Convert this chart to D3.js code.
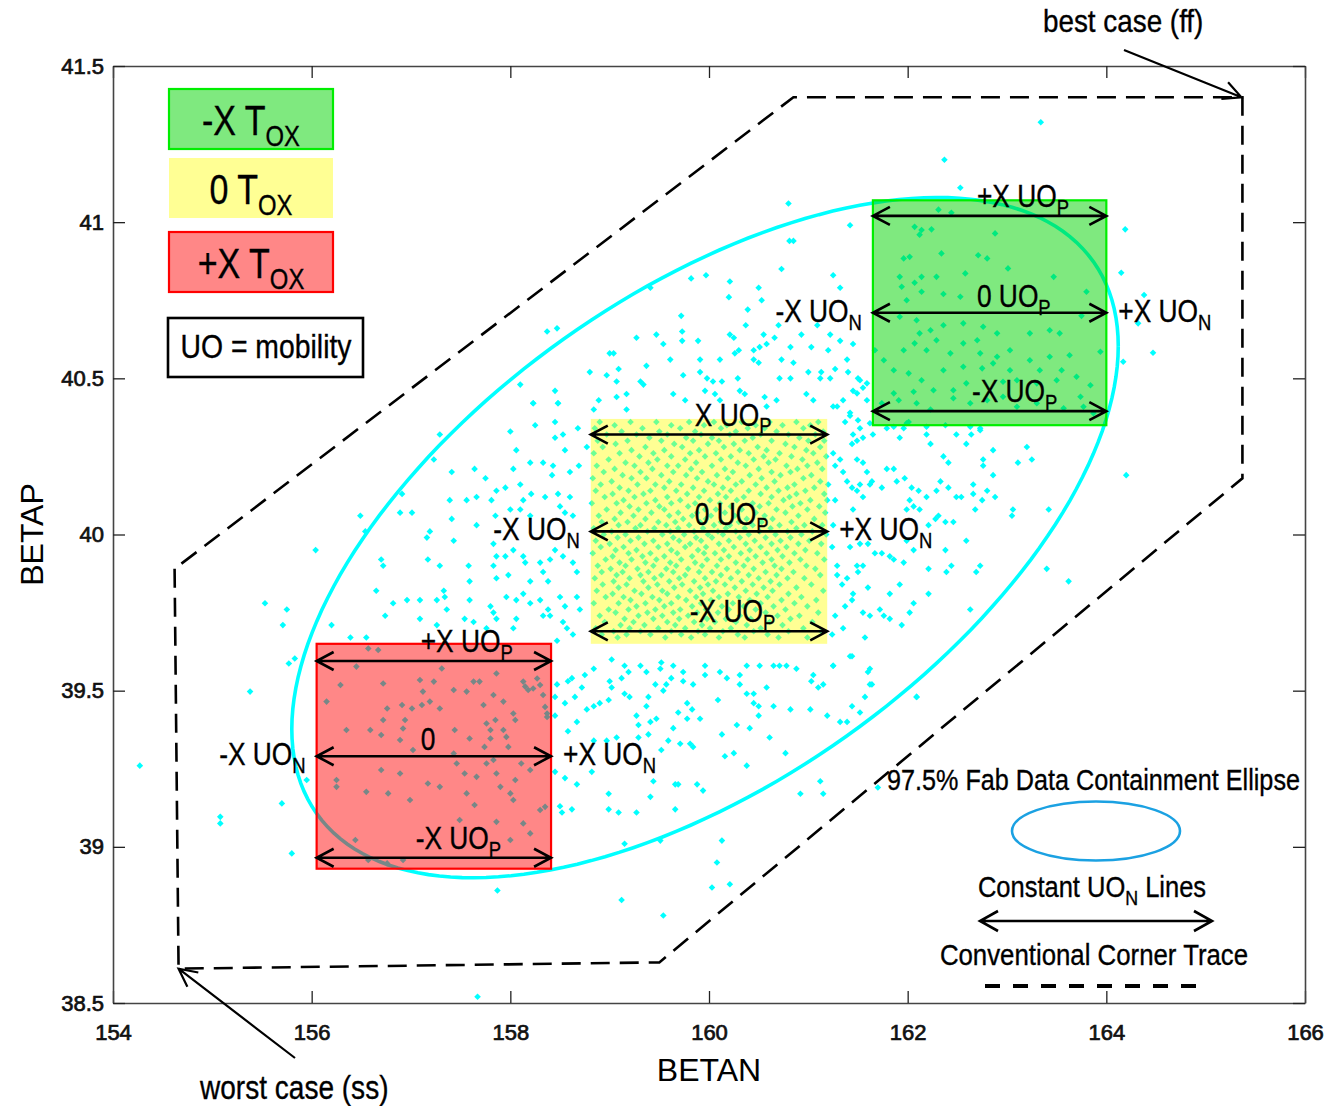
<!DOCTYPE html>
<html><head><meta charset="utf-8">
<script src="https://cdn.jsdelivr.net/npm/d3@7"></script>
<style>
body{margin:0;background:#fff;}
svg{display:block;}
.nar{font-family:"Liberation Sans Narrow","Arial Narrow","Liberation Sans",Arial,sans-serif;white-space:pre;}
.reg{font-family:"Liberation Sans",Arial,sans-serif;}
</style></head><body>
<svg id="chart" width="1327" height="1106"></svg>
<script>
// ---------- axes ----------
const xTicks = [154,156,158,160,162,164,166];
const xTickLabels = ["154","156","158","160","162","164","166"];
const yTicks = [38.5,39,39.5,40,40.5,41,41.5];
const yTickLabels = ["38.5","39","39.5","40","40.5","41","41.5"];
const xTitle = "BETAN", yTitle = "BETAP";

// ---------- 97.5% containment ellipse (center, x-semi-axis, tilt term, y term) ----------
const ellipseCenter = [159.96, 39.99];
const ellipseShape = [4.16, 0.613, 0.90];

// ---------- conventional corner trace ----------
const cornerBetan = [154.62,154.66,159.50,165.37,165.37,160.85,154.62];
const cornerBetap = [39.89,38.61,38.63,40.18,41.40,41.40,39.89];

// ---------- T_OX boxes: green (-X), yellow (0), red (+X) ----------
const boxTox = ["-X","0","+X"];
const boxBetanLo = [161.65,158.81,156.05];
const boxBetanHi = [164.00,161.19,158.41];
const boxBetapLo = [40.35,39.65,38.93];
const boxBetapHi = [41.07,40.37,39.65];
const arrowBetap = [[41.02,40.71,40.395],[40.32,40.01,39.69],[39.595,39.29,38.965]];
const topLabels = [["+X UO","P"],["X UO","P"],["+X UO","P"]];
const midLabels = [["0 UO","P"],["0 UO","P"],["0",""]];
const botLabels = [["-X UO","P"],["-X UO","P"],["-X UO","P"]];
const leftLabel = ["-X UO","N"], rightLabel = ["+X UO","N"];

// ---------- fab data (BETAN, BETAP) ----------
const ptsUpperMid = [[160.80,41.06],[161.42,40.99],[160.81,40.94],[160.85,40.94],[160.73,40.85],[159.82,40.82],[159.97,40.83],[160.21,40.81],[160.50,40.79],[161.25,40.83],[161.32,40.79],[160.20,40.76],[160.53,40.75],[160.39,40.72],[159.72,40.70],[160.37,40.67],[158.37,40.65],[158.47,40.66],[159.41,40.79],[159.27,40.63],[159.47,40.64],[159.73,40.65],[159.89,40.62],[160.21,40.64],[160.25,40.63],[160.55,40.64],[160.66,40.63],[160.70,40.67],[160.93,40.64],[161.22,40.64],[161.45,40.61],[161.09,40.67],[159.54,40.61],[159.61,40.56],[159.73,40.62],[159.91,40.56],[160.11,40.56],[160.26,40.58],[160.30,40.59],[160.45,40.59],[160.51,40.60],[160.58,40.61],[160.82,40.60],[161.03,40.60],[161.20,40.59],[161.32,40.62],[161.39,40.56],[159.00,40.58],[159.04,40.58],[159.37,40.54],[159.74,40.51],[159.91,40.52],[159.98,40.50],[160.04,40.49],[160.13,40.49],[160.29,40.50],[160.45,40.56],[160.50,40.55],[160.73,40.56],[160.85,40.55],[161.00,40.52],[161.13,40.52],[161.27,40.53],[161.40,40.52],[159.09,40.53],[159.07,40.49],[158.80,40.52],[158.97,40.51],[159.31,40.49],[159.34,40.48],[159.96,40.46],[160.06,40.45],[160.31,40.46],[160.36,40.45],[160.56,40.44],[160.71,40.50],[160.82,40.50],[161.12,40.50],[161.22,40.50],[161.50,40.50],[161.55,40.47],[161.45,40.46],[158.45,40.46],[158.23,40.42],[158.48,40.42],[158.89,40.43],[159.07,40.44],[159.17,40.45],[159.64,40.45],[159.76,40.43],[160.11,40.43],[160.58,40.41],[160.68,40.43],[160.98,40.45],[161.05,40.43],[161.29,40.41],[161.35,40.43],[161.42,40.39],[158.84,40.40],[159.17,40.40],[158.10,40.48]];
const ptsUpperRight = [[163.34,41.32],[162.37,41.20],[162.53,41.11],[162.31,41.04],[162.44,41.03],[162.07,40.985],[162.14,40.975],[162.24,40.977],[162.12,40.96],[162.88,40.964],[164.19,40.977],[161.96,40.884],[162.02,40.889],[162.34,40.90],[162.71,40.894],[162.80,40.884],[161.92,40.825],[162.14,40.825],[162.29,40.825],[162.58,40.836],[163.01,40.852],[163.47,40.825],[164.15,40.838],[161.94,40.793],[162.07,40.806],[161.99,40.75],[162.14,40.777],[162.36,40.77],[162.53,40.761],[163.80,40.777],[163.75,40.70],[164.38,40.767],[164.32,40.676],[164.47,40.582],[164.17,40.553],[161.92,40.697],[162.09,40.686],[162.23,40.654],[162.12,40.644],[162.36,40.67],[162.56,40.676],[162.76,40.665],[162.90,40.644],[163.23,40.644],[163.43,40.654],[163.53,40.644],[162.56,40.612],[162.70,40.622],[162.29,40.622],[162.07,40.612],[161.96,40.59],[162.19,40.59],[162.43,40.58],[162.73,40.58],[162.90,40.569],[163.03,40.59],[163.23,40.558],[163.43,40.569],[163.63,40.574],[163.94,40.585],[161.67,40.59],[161.76,40.558],[161.86,40.526],[162.01,40.516],[162.14,40.494],[162.36,40.526],[162.56,40.537],[162.75,40.532],[162.86,40.548],[163.03,40.526],[163.33,40.526],[163.55,40.526],[163.70,40.505],[163.84,40.478],[163.74,40.441],[163.50,40.494],[163.30,40.484],[163.10,40.494],[162.96,40.489],[162.59,40.484],[162.46,40.462],[162.26,40.462],[162.06,40.457],[161.86,40.452],[161.59,40.484],[161.52,40.494],[161.49,40.452],[161.59,40.43],[161.74,40.42],[161.91,40.43],[162.09,40.42],[162.23,40.40],[162.46,40.436],[162.63,40.42],[162.80,40.43],[162.96,40.441],[163.10,40.409],[163.30,40.42],[163.57,40.404],[163.77,40.409],[163.87,40.388],[161.50,40.366],[161.62,40.356],[161.86,40.345],[161.99,40.356],[162.19,40.345],[162.63,40.345],[162.73,40.334]];
const ptsRightMid = [[161.25,40.41],[161.37,40.36],[161.42,40.38],[161.45,40.32],[161.52,40.34],[161.44,40.29],[161.49,40.30],[161.55,40.31],[161.65,40.32],[161.79,40.34],[161.92,40.31],[161.96,40.34],[162.01,40.36],[162.19,40.32],[162.23,40.29],[162.38,40.35],[162.49,40.32],[162.59,40.29],[162.64,40.32],[162.73,40.34],[162.86,40.27],[162.76,40.24],[162.76,40.22],[163.20,40.28],[163.25,40.24],[163.11,40.23],[164.20,40.19],[162.36,40.25],[162.41,40.23],[162.33,40.17],[162.29,40.14],[162.41,40.15],[162.49,40.12],[162.54,40.12],[162.66,40.16],[162.66,40.13],[162.75,40.11],[162.80,40.14],[162.86,40.19],[162.88,40.12],[163.06,40.08],[163.05,40.06],[163.42,40.08],[162.68,40.08],[162.59,39.98],[162.46,40.04],[162.38,40.04],[162.31,40.06],[162.28,40.05],[162.21,40.03],[162.19,40.12],[162.11,40.14],[162.04,40.15],[162.02,40.11],[162.06,40.09],[161.99,40.08],[162.12,40.08],[161.79,40.21],[161.74,40.15],[161.64,40.17],[161.59,40.20],[161.55,40.23],[161.49,40.24],[161.32,40.24],[161.27,40.22],[161.25,40.26],[161.35,40.20],[161.39,40.17],[161.44,40.15],[161.49,40.14],[161.52,40.16],[161.62,40.16],[161.86,40.21],[161.89,40.17],[161.97,40.18],[161.55,40.12],[161.45,40.08],[161.27,40.11],[161.20,40.16],[161.19,40.11],[161.25,40.03],[161.24,39.96],[161.42,39.96],[161.52,39.97],[161.60,39.97],[161.67,39.94],[161.74,39.94],[161.86,39.92],[161.96,39.91],[161.82,39.93],[161.99,39.98],[162.06,39.95],[162.21,39.89],[162.39,39.88],[162.44,39.90],[162.38,39.95],[162.69,39.88],[162.73,39.90],[163.40,39.89],[163.62,39.85],[161.92,39.84],[161.60,39.83],[161.45,39.81],[161.44,39.79],[161.82,39.81],[162.21,39.81],[162.63,39.76],[162.06,39.78],[162.02,39.75],[161.72,39.76],[161.55,39.75],[161.62,39.74],[161.76,39.74],[161.82,39.73],[161.94,39.71],[161.37,39.77],[161.27,39.74],[161.35,39.70],[161.24,39.68],[161.57,39.67],[161.44,39.61],[161.25,39.58],[161.62,39.57],[161.64,39.52],[162.09,39.48],[161.49,39.90],[161.50,39.88],[161.55,39.90],[161.29,39.90],[161.29,39.87],[161.39,39.86],[161.34,39.84]];
const ptsLeftMid = [[157.29,40.32],[157.23,40.24],[156.91,40.13],[156.49,40.06],[156.54,40.01],[156.04,39.95],[156.89,40.07],[157.01,40.07],[157.41,40.20],[157.64,40.21],[157.75,40.18],[158.00,40.33],[158.06,40.27],[158.25,40.35],[158.45,40.36],[158.48,40.42],[158.23,40.42],[158.53,40.32],[158.68,40.34],[158.77,40.28],[158.45,40.31],[158.55,40.27],[158.03,40.21],[158.20,40.23],[158.33,40.23],[158.43,40.22],[158.42,40.19],[158.60,40.20],[158.69,40.22],[158.10,40.16],[157.86,40.14],[157.95,40.15],[158.21,40.13],[158.35,40.12],[158.48,40.13],[158.60,40.12],[157.39,40.11],[157.56,40.11],[157.66,40.12],[157.81,40.11],[157.85,40.06],[158.00,40.08],[158.13,40.11],[158.10,40.08],[158.20,40.06],[158.50,40.09],[158.55,40.07],[158.63,40.06],[157.41,40.05],[157.66,40.03],[157.19,40.01],[157.43,39.98],[157.16,39.99],[156.70,39.92],[156.72,39.90],[157.17,39.92],[157.29,39.90],[157.58,39.90],[157.59,39.85],[157.83,39.97],[157.86,39.93],[157.95,39.93],[158.03,39.95],[158.13,39.93],[158.15,39.91],[158.30,39.91],[158.40,39.92],[158.45,39.95],[158.53,39.93],[158.63,39.91],[158.67,39.88],[158.33,39.88],[158.38,39.85],[158.20,39.85],[157.98,39.87],[157.83,39.90],[157.86,39.86],[156.65,39.82],[156.82,39.78],[156.96,39.79],[157.09,39.79],[157.26,39.79],[157.33,39.82],[157.34,39.80],[157.36,39.76],[157.59,39.79],[157.80,39.77],[157.83,39.75],[157.96,39.80],[158.06,39.79],[158.13,39.81],[158.20,39.78],[158.30,39.79],[158.38,39.76],[158.50,39.80],[158.55,39.77],[158.67,39.80],[158.70,39.76],[158.33,39.74],[158.40,39.74],[158.53,39.72],[158.57,39.70],[158.63,39.68],[158.47,39.66],[158.06,39.73],[158.03,39.70],[157.86,39.73],[157.76,39.70],[157.63,39.72],[157.54,39.73],[157.26,39.71],[157.09,39.73],[156.74,39.74],[156.55,39.67],[156.39,39.67],[156.20,39.71],[155.75,39.76],[155.71,39.71],[155.53,39.78]];
const ptsLowerLeft = [[155.77,39.587],[155.83,39.603],[155.38,39.497],[155.08,39.096],[155.08,39.075],[155.70,39.139],[155.80,38.979],[155.95,39.214],[156.15,39.465],[156.29,39.518],[156.35,39.374],[156.45,39.577],[156.57,39.635],[156.67,39.63],[156.72,39.523],[156.72,39.406],[156.59,39.374],[156.70,39.358],[156.76,39.443],[156.91,39.454],[156.92,39.379],[156.94,39.406],[157.01,39.443],[157.09,39.534],[157.11,39.454],[157.12,39.497],[157.19,39.465],[157.23,39.529],[157.29,39.443],[157.31,39.571],[157.43,39.502],[157.44,39.374],[157.56,39.497],[157.63,39.529],[157.69,39.529],[157.73,39.454],[157.76,39.395],[157.80,39.374],[157.83,39.486],[157.86,39.555],[157.85,39.406],[157.93,39.465],[157.93,39.374],[157.96,39.352],[157.98,39.32],[158.03,39.427],[158.05,39.406],[158.13,39.529],[158.15,39.513],[158.18,39.502],[158.23,39.507],[158.27,39.539],[158.30,39.518],[158.33,39.486],[158.35,39.448],[158.37,39.427],[158.37,39.416],[156.89,39.342],[157.02,39.31],[157.43,39.299],[157.59,39.347],[157.74,39.32],[157.80,39.347],[157.83,39.278],[157.86,39.235],[157.66,39.224],[157.54,39.235],[157.46,39.267],[157.76,39.267],[157.90,39.192],[158.00,39.171],[158.03,39.15],[158.05,39.214],[158.11,39.267],[158.20,39.246],[158.30,39.118],[158.35,39.128],[156.25,39.214],[156.25,39.192],[156.55,39.176],[156.70,39.246],[156.77,39.171],[156.89,39.235],[156.99,39.15],[157.17,39.203],[157.29,39.192],[157.56,39.171],[157.64,39.134],[157.86,39.08],[158.13,39.075],[158.20,39.043],[158.00,39.022],[157.49,39.086],[156.44,39.022],[156.57,38.958],[156.76,38.947],[156.92,38.958]];
const ptsLowerMid = [[158.47,39.52],[158.58,39.53],[158.62,39.54],[158.72,39.51],[158.65,39.48],[158.55,39.46],[158.45,39.48],[158.45,39.42],[158.58,39.37],[158.67,39.40],[158.77,39.44],[158.84,39.45],[158.90,39.46],[158.99,39.47],[159.02,39.51],[159.00,39.53],[159.12,39.54],[159.19,39.56],[159.31,39.58],[159.37,39.56],[159.15,39.49],[159.20,39.48],[159.27,39.42],[159.29,39.39],[159.41,39.40],[159.47,39.41],[159.37,39.45],[159.39,39.48],[159.46,39.52],[159.54,39.50],[159.57,39.52],[159.62,39.54],[159.64,39.58],[159.74,39.53],[159.84,39.52],[159.78,39.46],[159.83,39.44],[159.78,39.41],[159.64,39.38],[159.69,39.43],[159.39,39.36],[159.29,39.35],[159.07,39.35],[158.97,39.34],[158.84,39.34],[158.82,39.24],[158.67,39.20],[158.55,39.22],[158.45,39.24],[158.50,39.13],[158.62,39.12],[158.52,39.11],[158.99,39.17],[159.09,39.11],[158.99,39.12],[159.27,39.11],[159.41,39.16],[159.44,39.21],[159.52,39.31],[159.59,39.34],[159.71,39.33],[159.81,39.33],[159.84,39.32],[159.66,39.20],[159.69,39.20],[159.88,39.20],[159.94,39.18],[159.66,39.12],[160.09,39.47],[160.13,39.36],[160.16,39.29],[160.25,39.30],[160.38,39.26],[160.28,39.39],[160.41,39.38],[160.50,39.42],[160.45,39.49],[160.45,39.46],[160.50,39.45],[160.58,39.51],[160.65,39.45],[160.61,39.35],[160.77,39.30],[160.82,39.44],[161.02,39.44],[161.19,39.42],[161.32,39.40],[161.39,39.40],[161.44,39.45],[161.57,39.48],[161.52,39.43],[161.62,39.52],[161.60,39.56],[161.42,39.61],[161.25,39.58],[161.15,39.52],[161.10,39.51],[161.03,39.53],[161.05,39.55],[160.88,39.57],[160.78,39.58],[160.71,39.58],[160.65,39.58],[160.51,39.58],[160.38,39.58],[160.31,39.55],[160.31,39.52],[160.18,39.54],[160.11,39.56],[159.96,39.55],[159.96,39.58],[159.74,39.56],[159.51,39.57],[159.52,39.59],[159.15,39.58],[159.02,39.60],[158.84,39.57],[158.75,39.55],[162.09,39.48],[161.12,39.21],[161.15,39.17],[160.92,39.17],[160.13,39.02],[160.08,38.95],[160.03,38.87],[160.21,38.88],[159.51,39.02],[159.15,39.01],[159.12,38.83],[159.54,38.78],[161.70,39.19],[160.38,39.49],[159.91,39.41]];
const ptsOutliers = [[154.27,39.26],[157.87,38.86],[157.67,38.52]];
// dense core (rows of BETAP, with the BETAN of each point)
const coreRows = [
[40.36,[158.90,159.21,159.47,159.80,160.05,160.33,160.61,160.88,161.10]],
[40.35,[159.05,159.62,159.95,160.18,160.47,160.74,161.02]],
[40.34,[158.85,159.33,159.71,160.12,160.39,160.56,160.95]],
[40.33,[159.12,159.50,159.86,160.27,160.68,161.15]],
[40.32,[158.97,159.27,159.58,159.92,160.21,160.52,160.80,161.07]],
[40.31,[159.40,159.77,160.03,160.44,160.91]],
[40.30,[158.88,159.18,159.52,159.84,160.10,160.36,160.63,161.00,161.16]],
[40.29,[159.06,159.65,159.99,160.25,160.77]],
[40.28,[158.93,159.36,159.73,160.15,160.49,160.86,161.12]],
[40.27,[159.22,159.55,159.90,160.31,160.58,160.98]],
[40.26,[158.84,159.10,159.44,159.81,160.07,160.40,160.71,161.05]],
[40.25,[159.30,159.62,159.96,160.22,160.55,160.83,161.18]],
[40.24,[158.99,159.48,159.76,160.12,160.45,160.67,160.94]],
[40.23,[159.16,159.39,159.87,160.29,160.60,161.09]],
[40.22,[158.87,159.25,159.58,159.69,160.03,160.37,160.78,160.99]],
[40.21,[159.05,159.43,159.82,160.16,160.50,160.89,161.14]],
[40.20,[158.94,159.31,159.64,159.93,160.24,160.63,160.82]],
[40.19,[159.13,159.52,159.77,160.08,160.41,160.72,161.03]],
[40.18,[158.83,159.22,159.37,159.88,160.19,160.53,160.95]],
[40.17,[159.02,159.60,159.99,160.33,160.66,161.12]],
[40.16,[158.91,159.28,159.46,159.72,160.05,160.27,160.47,160.86]],
[40.15,[159.10,159.55,159.84,160.14,160.58,160.79,161.06]],
[40.14,[158.86,159.19,159.41,159.67,159.95,160.22,160.40,160.70,160.97]],
[40.13,[159.03,159.34,159.78,160.09,160.52,160.88,161.16]],
[40.12,[158.95,159.25,159.58,159.90,160.17,160.35,160.63,160.81]],
[40.11,[159.14,159.46,159.71,160.01,160.28,160.75,161.02]],
[40.10,[158.82,159.07,159.37,159.62,159.86,160.11,160.44,160.60,160.92]],
[40.09,[159.20,159.50,159.79,160.22,160.51,160.84,161.11]],
[40.08,[158.97,159.29,159.55,159.96,160.07,160.33,160.68,160.99]],
[40.07,[159.11,159.42,159.69,159.88,160.16,160.47,160.77,161.17]],
[40.06,[158.89,159.24,159.60,159.83,160.02,160.26,160.56,160.90]],
[40.05,[159.05,159.36,159.74,159.97,160.38,160.64,161.06]],
[40.04,[158.92,159.18,159.49,159.66,159.91,160.12,160.30,160.53,160.83]],
[40.03,[159.09,159.31,159.57,159.80,160.05,160.21,160.44,160.71,160.96,161.14]],
[40.02,[158.84,159.26,159.45,159.69,159.94,160.17,160.36,160.62,160.88]],
[40.01,[159.02,159.38,159.61,159.85,160.09,160.27,160.51,160.79,161.04]],
[40.00,[158.94,159.16,159.53,159.75,159.99,160.14,160.40,160.67,160.93,161.18]],
[39.99,[159.08,159.29,159.64,159.87,160.03,160.31,160.57,160.82]],
[39.98,[158.86,159.21,159.44,159.70,159.92,160.20,160.46,160.72,161.01]],
[39.97,[159.00,159.35,159.58,159.81,160.10,160.37,160.63,160.90,161.13]],
[39.96,[158.91,159.14,159.49,159.76,159.97,160.25,160.52,160.78]],
[39.95,[159.06,159.27,159.62,159.89,160.15,160.41,160.69,160.97]],
[39.94,[158.83,159.19,159.41,159.68,159.95,160.06,160.32,160.58,160.86,161.09]],
[39.93,[159.03,159.33,159.55,159.83,160.20,160.47,160.74]],
[39.92,[158.96,159.22,159.47,159.72,159.98,160.12,160.39,160.63,160.92,161.16]],
[39.91,[159.10,159.36,159.61,159.86,160.27,160.54,160.81]],
[39.90,[158.88,159.16,159.44,159.67,159.93,160.08,160.35,160.66,160.98]],
[39.89,[159.01,159.28,159.57,159.79,160.18,160.45,160.73,161.07]],
[39.88,[158.92,159.13,159.39,159.64,159.90,160.03,160.29,160.57,160.85]],
[39.87,[159.07,159.31,159.52,159.76,160.12,160.40,160.68,161.12]],
[39.86,[158.85,159.20,159.45,159.70,159.96,160.22,160.50,160.79,160.96]],
[39.85,[159.04,159.34,159.60,159.85,160.07,160.33,160.62]],
[39.84,[158.93,159.17,159.48,159.73,159.99,160.16,160.44,160.71,161.03]],
[39.83,[159.09,159.39,159.65,159.91,160.26,160.55,160.88]],
[39.82,[158.87,159.25,159.53,159.81,160.04,160.37,160.64,161.15]],
[39.81,[159.03,159.32,159.58,159.94,160.19,160.48,160.80]],
[39.80,[158.96,159.14,159.43,159.69,159.87,160.10,160.30,160.59,160.93]],
[39.79,[159.21,159.50,159.77,160.02,160.41,160.73,161.08]],
[39.78,[158.84,159.09,159.36,159.62,159.92,160.24,160.52,160.86]],
[39.77,[159.27,159.55,159.83,160.13,160.35,160.65,160.99]],
[39.76,[158.99,159.19,159.46,159.71,159.97,160.20,160.47,160.77]],
[39.75,[159.06,159.38,159.64,159.88,160.09,160.57,161.10]],
[39.74,[158.90,159.29,159.53,159.79,160.31,160.69,160.91]],
[39.73,[159.15,159.44,159.70,159.98,160.17,160.42,160.82]],
[39.72,[158.95,159.24,159.58,159.85,160.06,160.27,160.61,161.04]],
[39.71,[159.11,159.35,159.66,159.93,160.38,160.74]],
[39.70,[158.86,159.20,159.49,159.76,160.01,160.22,160.52,160.95]],
[39.69,[159.04,159.31,159.62,159.89,160.14,160.45,160.80,161.13]],
[39.68,[158.92,159.17,159.41,159.72,159.96,160.29,160.59]],
[39.67,[159.08,159.56,159.82,160.10,160.36,160.70,160.99]]
];

// ---------- drawing ----------
const svg = d3.select("#chart");
const x = d3.scaleLinear().domain([154,166]).range([113,1305]);
const y = d3.scaleLinear().domain([38.5,41.5]).range([1003,66]);
const [X0,X1] = x.range(), [Y1,Y0] = y.range();

svg.append("defs").append("clipPath").attr("id","plotclip")
  .append("rect").attr("x",X0).attr("y",Y0).attr("width",X1-X0).attr("height",Y1-Y0);

const ptsCore = coreRows.flatMap(([b,xs]) => xs.map(a => [a,b]));
const allPts = [].concat(ptsUpperMid, ptsUpperRight, ptsRightMid, ptsLeftMid, ptsLowerLeft, ptsLowerMid, ptsCore, ptsOutliers);

const gPlot = svg.append("g").attr("clip-path","url(#plotclip)");
gPlot.append("g").selectAll("path").data(allPts).join("path")
  .attr("d","M0,-3.3L3.3,0L0,3.3L-3.3,0Z")
  .attr("transform", d => `translate(${x(d[0])},${y(d[1])})`)
  .attr("fill","#00ffff");

// ellipse
const ellPts = d3.range(0, 361, 2).map(deg => {
  const t = deg*Math.PI/180;
  return [ellipseCenter[0] + ellipseShape[0]*Math.cos(t),
          ellipseCenter[1] + ellipseShape[1]*Math.cos(t) + ellipseShape[2]*Math.sin(t)];
});
gPlot.append("path").attr("d", d3.line().x(d=>x(d[0])).y(d=>y(d[1]))(ellPts))
  .attr("fill","none").attr("stroke","#00ffff").attr("stroke-width",3.6);

// boxes
const boxFill = ["#00d400","#ffff00","#ff0000"];
const boxOpacity = [0.5,0.42,0.47];
const boxStroke = ["#00ee00","none","#ff0000"];
boxTox.forEach((t,i) => {
  gPlot.append("rect")
    .attr("x", x(boxBetanLo[i])).attr("y", y(boxBetapHi[i]))
    .attr("width", x(boxBetanHi[i])-x(boxBetanLo[i])).attr("height", y(boxBetapLo[i])-y(boxBetapHi[i]))
    .attr("fill", boxFill[i]).attr("fill-opacity", boxOpacity[i]);
  if (boxStroke[i] !== "none")
    gPlot.append("rect")
      .attr("x", x(boxBetanLo[i])).attr("y", y(boxBetapHi[i]))
      .attr("width", x(boxBetanHi[i])-x(boxBetanLo[i])).attr("height", y(boxBetapLo[i])-y(boxBetapHi[i]))
      .attr("fill","none").attr("stroke", boxStroke[i]).attr("stroke-width",2.2);
});

// corner trace
gPlot.append("path")
  .attr("d", d3.line().x(d=>x(d[0])).y(d=>y(d[1]))(cornerBetan.map((v,i)=>[v,cornerBetap[i]])))
  .attr("fill","none").attr("stroke","#000").attr("stroke-width",2.6).attr("stroke-dasharray","19,10");

// helpers
function dblArrow(g, xa, xb, yy, head=17, half=9, sw=2.6) {
  g.append("path")
    .attr("d", `M${xa},${yy}H${xb}M${xa+head},${yy-half}L${xa},${yy}L${xa+head},${yy+half}M${xb-head},${yy-half}L${xb},${yy}L${xb-head},${yy+half}`)
    .attr("fill","none").attr("stroke","#000").attr("stroke-width",sw);
}
function pointer(g, xa, ya, xb, yb, head=18, half=9, sw=2.2) {
  const ang = Math.atan2(yb-ya, xb-xa), c=Math.cos(ang), s=Math.sin(ang);
  const bx = xb - head*c, by = yb - head*s;
  g.append("path")
    .attr("d", `M${xa},${ya}L${xb},${yb}M${bx - half*s},${by + half*c}L${xb},${yb}L${bx + half*s},${by - half*c}`)
    .attr("fill","none").attr("stroke","#000").attr("stroke-width",sw);
}
// condensed text (narrow face emulated by a horizontal squeeze)
function rich(g, px, py, segs, size, anchor, sx=0.85) {
  const gg = g.append("g").attr("transform", `translate(${px},${py}) scale(${sx},1)`);
  const t = gg.append("text").attr("class","nar").attr("x",0).attr("y",0)
    .attr("font-size",size).attr("text-anchor",anchor||"start").attr("fill","#000")
    .attr("stroke","#000").attr("stroke-width",0.35);
  let sub = false;
  segs.forEach(s => {
    if (!s.t) return;
    const ts = t.append("tspan").text(s.t);
    if (s.sub) { ts.attr("font-size", size*0.7); if (!sub) ts.attr("dy", size*0.25); sub = true; }
    else if (sub) { ts.attr("dy", -size*0.25); sub = false; }
  });
  return t;
}
const lab = (a) => [{t:a[0]},{t:a[1],sub:true}];

const gAnn = svg.append("g");
const LS = 31;
boxTox.forEach((t,i) => {
  const xa = x(boxBetanLo[i]), xb = x(boxBetanHi[i]);
  const ys = arrowBetap[i].map(v => y(v));
  ys.forEach(yy => dblArrow(gAnn, xa, xb, yy));
  rich(gAnn, xa+104, ys[0]-9, lab(topLabels[i]), LS, "start");
  rich(gAnn, xa+104, ys[1]-6, lab(midLabels[i]), LS, "start");
  rich(gAnn, xa+99, ys[2]-9, lab(botLabels[i]), LS, "start");
  rich(gAnn, xa-11, ys[1]+9, lab(leftLabel), LS, "end");
  rich(gAnn, xb+12, ys[1]+9, lab(rightLabel), LS, "start");
});

// axes
const fmtX = (d,i) => xTickLabels[i], fmtY = (d,i) => yTickLabels[i];
function styleAxis(g) {
  g.select(".domain").attr("stroke","#444").attr("stroke-width",1.6);
  g.selectAll(".tick line").attr("stroke","#222").attr("stroke-width",1.3);
  g.selectAll(".tick text").attr("class","reg").attr("font-size",22).attr("fill","#111")
    .attr("stroke","#111").attr("stroke-width",0.7);
  g.attr("font-family",null).attr("font-size",null);
}
svg.append("g").attr("transform",`translate(0,${Y1})`)
  .call(d3.axisBottom(x).tickValues(xTicks).tickFormat(fmtX).tickSize(-12).tickSizeOuter(0).tickPadding(21)).call(styleAxis);
svg.append("g").attr("transform",`translate(0,${Y0})`)
  .call(d3.axisTop(x).tickValues(xTicks).tickFormat("").tickSize(-12).tickSizeOuter(0)).call(styleAxis);
svg.append("g").attr("transform",`translate(${X0},0)`)
  .call(d3.axisLeft(y).tickValues(yTicks).tickFormat(fmtY).tickSize(-12).tickSizeOuter(0).tickPadding(9)).call(styleAxis);
svg.append("g").attr("transform",`translate(${X1},0)`)
  .call(d3.axisRight(y).tickValues(yTicks).tickFormat("").tickSize(-12).tickSizeOuter(0)).call(styleAxis);

svg.append("text").attr("class","reg").attr("x",(X0+X1)/2).attr("y",1081).attr("text-anchor","middle")
  .attr("font-size",32).text(xTitle);
svg.append("text").attr("class","reg").attr("transform",`translate(43,${(Y0+Y1)/2}) rotate(-90)`)
  .attr("text-anchor","middle").attr("font-size",32).text(yTitle);

// best / worst case pointers
const best = [cornerBetan[4], cornerBetap[4]], worst = [cornerBetan[1], cornerBetap[1]];
rich(svg, 1043, 32, [{t:"best case (ff)"}], 32, "start", 0.87);
pointer(svg, 1124, 50, x(best[0])-1, y(best[1]));
rich(svg, 200, 1099, [{t:"worst case (ss)"}], 33, "start", 0.85);
pointer(svg, 295, 1058, x(worst[0]), y(worst[1]));

// legend top-left
const gL = svg.append("g");
const legY = [89,158,232];
boxTox.forEach((t,i) => {
  gL.append("rect").attr("x",169).attr("y",legY[i]).attr("width",164).attr("height",60)
    .attr("fill",boxFill[i]).attr("fill-opacity",boxOpacity[i]);
  if (boxStroke[i] !== "none")
    gL.append("rect").attr("x",169).attr("y",legY[i]).attr("width",164).attr("height",60)
      .attr("fill","none").attr("stroke",boxStroke[i]).attr("stroke-width",2.2);
  rich(gL, 251, legY[i]+46, [{t:t+" T"},{t:"OX",sub:true}], 42, "middle", 0.81);
});
gL.append("rect").attr("x",168).attr("y",318).attr("width",195).attr("height",59)
  .attr("fill","#fff").attr("stroke","#000").attr("stroke-width",2.6);
rich(gL, 266, 358, [{t:"UO = mobility"}], 33, "middle", 0.86);

// legend bottom-right
const gR = svg.append("g");
rich(gR, 887, 790, [{t:"97.5% Fab Data Containment Ellipse"}], 30, "start", 0.84);
gR.append("ellipse").attr("cx",1096).attr("cy",831).attr("rx",84).attr("ry",29.5)
  .attr("fill","none").attr("stroke","#1ba1e2").attr("stroke-width",2.6);
rich(gR, 1092, 897, [{t:"Constant UO"},{t:"N",sub:true},{t:" Lines"}], 30, "middle", 0.85);
dblArrow(gR, 980, 1212, 921, 18, 10, 2.6);
rich(gR, 1094, 965, [{t:"Conventional Corner Trace"}], 30, "middle", 0.86);
gR.append("line").attr("x1",985).attr("x2",1197).attr("y1",986).attr("y2",986)
  .attr("stroke","#000").attr("stroke-width",4).attr("stroke-dasharray","15,13");
</script>
</body></html>
